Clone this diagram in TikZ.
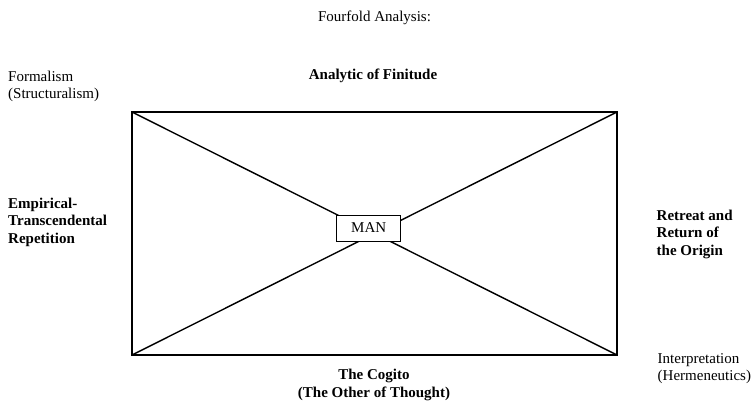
\documentclass[tikz,border=0pt]{standalone}
\usepackage{fontspec}
\setmainfont{Liberation Serif}
\usepackage{tikz}

\tikzset{
    plain/.style={inner sep=0pt, align=left, font=\fontsize{15}{17}\selectfont},
    heading/.style={inner sep=0pt, font=\fontsize{15}{17.3}\selectfont\bfseries},
    manbox/.style={draw, fill=white, line width=1pt, minimum width=64pt, minimum height=26pt, inner sep=0pt, font=\fontsize{15}{17}\selectfont}
}

\begin{document}
\begin{tikzpicture}[x=1pt, y=-1pt]
    \useasboundingbox (0,0) rectangle (752,401);

    % Corners of the big rectangle
    \coordinate (tl) at (132,112);
    \coordinate (tr) at (617,112);
    \coordinate (bl) at (132,355);
    \coordinate (br) at (617,355);

    % Draw the rectangle and its two diagonals
    \draw[line width=1.5pt] (tl) rectangle (br);
    \draw[line width=1.4pt] (tl) -- (br);
    \draw[line width=1.4pt] (bl) -- (tr);

    % The box in the middle
    \node[manbox] (man) at (368.7,228) {MAN};

    % Title
    \node[plain, anchor=base] (title) at (374.5,22) {Fourfold Analysis:};

    % Labels round the rectangle (base = last line)
    \node[heading, anchor=base] (top) at (373,80) {Analytic of Finitude};
    \node[heading, anchor=base west, align=left] (left) at (8,243) {Empirical-\\Transcendental\\Repetition};
    \node[heading, anchor=base west, align=left] (right) at (656.5,255) {Retreat and\\Return of\\the Origin};
    \node[heading, anchor=base, align=center] (bottom) at (374,397) {The Cogito\\(The Other of Thought)};

    % Labels at the corners
    \node[plain, anchor=base west] (formalism) at (8,99) {Formalism\\(Structuralism)};
    \node[plain, anchor=base west] (interp) at (657.5,380) {Interpretation\\(Hermeneutics)};
\end{tikzpicture}
\end{document}
